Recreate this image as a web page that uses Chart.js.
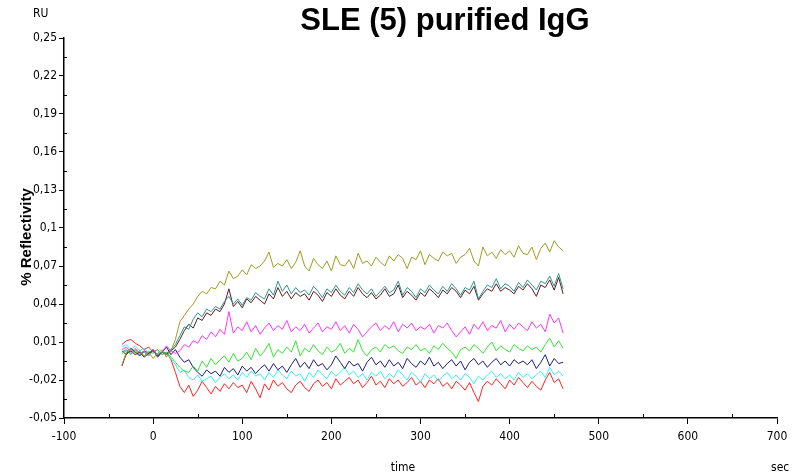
<!DOCTYPE html>
<html>
<head>
<meta charset="utf-8">
<script src="https://cdn.jsdelivr.net/npm/chart.js@4/dist/chart.umd.min.js"></script>
<style>
  html, body { margin: 0; padding: 0; background: #fff; }
  #wrap { width: 799px; height: 476px; position: relative; }
</style>
</head>
<body>
<div id="wrap"><canvas id="chart"></canvas></div>
<script>
// sample times (sec)
const times = [-35,-30,-25,-20,-15,-10,-5,0,5,10,15,20,25,30,35,40,45,50,55,60,65,70,75,80,85,90,95,100,
  105,110,115,120,125,130,135,140,145,150,155,160,165,170,175,180,185,190,195,200,205,210,215,220,225,230,
  235,240,245,250,255,260,265,270,275,280,285,290,295,300,305,310,315,320,325,330,335,340,345,350,355,360,
  365,370,375,380,385,390,395,400,405,410,415,420,425,430,435,440,445,450,455,460];

const olive = [-0.008,0.002,0.004,0.001,0.003,-0.001,0.002,-0.003,0.001,0.004,-0.002,0.003,
  0.012,0.026,0.031,0.036,0.040,0.046,0.050,0.048,0.053,0.052,0.058,0.055,0.066,0.060,0.062,0.067,
  0.063,0.071,0.068,0.070,0.074,0.081,0.069,0.072,0.070,0.075,0.068,0.073,0.082,0.070,0.066,0.076,
  0.071,0.068,0.074,0.066,0.078,0.071,0.070,0.075,0.068,0.080,0.072,0.074,0.070,0.077,0.073,0.070,
  0.078,0.074,0.079,0.076,0.068,0.077,0.075,0.082,0.071,0.079,0.076,0.074,0.081,0.078,0.080,0.072,
  0.077,0.079,0.084,0.074,0.070,0.085,0.078,0.081,0.076,0.083,0.079,0.082,0.077,0.086,0.080,0.079,
  0.085,0.075,0.084,0.088,0.081,0.090,0.085,0.082];

const teal = [0.002,0.004,0.001,0.003,0.000,0.002,-0.001,0.003,0.000,0.002,0.001,0.004,
  0.008,0.015,0.022,0.020,0.028,0.033,0.030,0.036,0.034,0.038,0.036,0.042,0.046,0.040,0.044,0.039,
  0.045,0.043,0.049,0.046,0.044,0.052,0.047,0.058,0.050,0.055,0.048,0.053,0.049,0.051,0.047,0.054,
  0.050,0.045,0.052,0.049,0.055,0.050,0.047,0.053,0.049,0.056,0.051,0.048,0.052,0.046,0.050,0.054,
  0.049,0.051,0.058,0.047,0.053,0.050,0.045,0.052,0.049,0.055,0.051,0.048,0.054,0.050,0.056,0.052,
  0.047,0.053,0.051,0.058,0.044,0.050,0.055,0.053,0.060,0.052,0.056,0.054,0.050,0.057,0.053,0.059,
  0.055,0.051,0.058,0.056,0.062,0.054,0.064,0.052];

const brown = [-0.009,0.001,0.003,0.000,0.002,-0.002,0.001,0.003,-0.001,0.002,0.000,0.003,
  0.006,0.012,0.019,0.024,0.021,0.029,0.027,0.033,0.031,0.036,0.034,0.040,0.052,0.038,0.042,0.037,
  0.044,0.041,0.046,0.043,0.040,0.048,0.044,0.053,0.046,0.050,0.044,0.049,0.046,0.048,0.043,0.050,
  0.047,0.042,0.049,0.046,0.052,0.047,0.044,0.050,0.046,0.053,0.048,0.045,0.049,0.044,0.047,0.052,
  0.046,0.048,0.055,0.045,0.050,0.047,0.043,0.049,0.046,0.052,0.049,0.045,0.051,0.048,0.053,0.050,
  0.045,0.051,0.048,0.054,0.043,0.048,0.052,0.050,0.056,0.050,0.053,0.051,0.048,0.054,0.051,0.056,
  0.052,0.046,0.055,0.053,0.059,0.051,0.061,0.048];

const magenta = [0.004,0.006,0.002,0.005,0.001,0.003,0.000,0.004,-0.001,0.002,0.007,0.003,
  0.001,0.003,0.008,0.006,0.011,0.009,0.015,0.012,0.018,0.014,0.020,0.016,0.034,0.017,0.022,0.019,
  0.026,0.018,0.023,0.016,0.021,0.025,0.019,0.023,0.020,0.027,0.018,0.022,0.019,0.024,0.017,0.021,
  0.025,0.018,0.022,0.020,0.026,0.019,0.023,0.017,0.024,0.020,0.014,0.018,0.022,0.025,0.019,0.023,
  0.020,0.026,0.018,0.024,0.021,0.025,0.019,0.022,0.020,0.024,0.017,0.023,0.021,0.025,0.019,0.014,
  0.018,0.022,0.016,0.024,0.020,0.026,0.019,0.023,0.021,0.027,0.018,0.024,0.020,0.025,0.022,0.019,
  0.026,0.021,0.024,0.018,0.032,0.025,0.029,0.017];

const green = [0.001,0.003,0.000,0.004,0.002,-0.001,0.003,0.001,0.004,0.000,0.002,-0.002,
  -0.006,-0.010,-0.013,-0.014,-0.009,-0.013,-0.005,-0.010,-0.003,-0.008,-0.004,-0.001,-0.006,0.001,-0.005,-0.003,
  0.002,-0.004,0.005,-0.001,0.003,0.009,-0.002,0.004,0.001,0.006,0.002,0.011,-0.001,0.005,0.002,0.008,
  0.003,0.000,0.006,0.002,0.004,0.009,0.001,0.005,0.002,0.012,0.003,-0.001,0.004,0.006,0.002,0.008,
  0.005,0.007,0.003,0.001,0.006,0.004,0.008,0.003,0.005,0.001,0.007,0.004,0.009,0.005,0.002,-0.003,
  0.004,0.006,0.003,0.008,0.005,0.001,0.006,0.010,0.003,0.007,0.004,0.002,0.008,0.005,0.003,0.007,
  0.004,0.006,0.002,0.008,0.013,0.006,0.011,0.005];

const navy = [0.003,0.000,0.005,0.002,-0.001,0.003,0.001,0.004,-0.002,0.002,0.006,0.000,
  0.004,-0.002,-0.006,-0.004,-0.010,-0.014,-0.017,-0.012,-0.015,-0.013,-0.017,-0.010,-0.014,-0.011,-0.016,-0.009,
  -0.013,-0.010,-0.015,-0.011,-0.008,-0.013,-0.007,-0.012,-0.009,-0.014,-0.008,-0.003,-0.010,-0.006,-0.011,-0.004,
  -0.009,-0.007,-0.012,-0.008,-0.001,-0.006,-0.011,-0.005,-0.009,-0.007,-0.013,-0.006,-0.002,-0.008,-0.005,-0.010,
  -0.004,-0.009,-0.006,-0.011,-0.003,-0.007,-0.010,-0.005,-0.008,-0.002,-0.009,-0.006,-0.011,-0.007,-0.004,-0.009,
  -0.005,-0.012,-0.006,-0.003,-0.008,-0.005,-0.010,-0.006,-0.003,-0.008,-0.005,-0.009,-0.004,-0.007,-0.005,-0.008,
  -0.004,-0.011,-0.006,0.000,-0.009,-0.003,-0.007,-0.006];

const cyan = [0.006,0.008,0.004,0.007,0.003,0.005,0.001,0.004,0.000,0.003,0.001,-0.003,
  -0.008,-0.014,-0.012,-0.018,-0.020,-0.016,-0.021,-0.019,-0.017,-0.022,-0.018,-0.015,-0.019,-0.016,-0.020,-0.014,
  -0.018,-0.013,-0.017,-0.015,-0.020,-0.014,-0.018,-0.012,-0.016,-0.019,-0.013,-0.017,-0.015,-0.021,-0.014,-0.018,
  -0.012,-0.016,-0.019,-0.013,-0.017,-0.014,-0.010,-0.016,-0.013,-0.018,-0.015,-0.020,-0.014,-0.017,-0.013,-0.019,
  -0.015,-0.018,-0.012,-0.016,-0.020,-0.014,-0.017,-0.022,-0.015,-0.019,-0.016,-0.021,-0.017,-0.014,-0.019,-0.016,
  -0.020,-0.015,-0.018,-0.023,-0.017,-0.020,-0.016,-0.013,-0.018,-0.015,-0.019,-0.016,-0.020,-0.014,-0.018,-0.015,
  -0.019,-0.016,-0.013,-0.018,-0.010,-0.016,-0.013,-0.017];

const red = [0.008,0.011,0.012,0.009,0.007,0.004,0.006,0.002,0.004,0.000,0.002,-0.004,
  -0.014,-0.025,-0.030,-0.024,-0.033,-0.028,-0.021,-0.026,-0.031,-0.025,-0.029,-0.023,-0.027,-0.022,-0.026,-0.024,
  -0.030,-0.021,-0.027,-0.034,-0.023,-0.028,-0.020,-0.025,-0.022,-0.027,-0.030,-0.024,-0.021,-0.026,-0.029,-0.023,
  -0.020,-0.025,-0.022,-0.027,-0.019,-0.024,-0.021,-0.018,-0.023,-0.020,-0.026,-0.022,-0.017,-0.024,-0.021,-0.026,
  -0.019,-0.023,-0.020,-0.025,-0.022,-0.018,-0.024,-0.021,-0.026,-0.020,-0.023,-0.019,-0.025,-0.022,-0.027,-0.021,
  -0.024,-0.028,-0.022,-0.030,-0.037,-0.025,-0.021,-0.024,-0.019,-0.023,-0.027,-0.020,-0.024,-0.018,-0.022,-0.026,
  -0.021,-0.025,-0.028,-0.020,-0.014,-0.022,-0.019,-0.027];

// axis ticks
const xTicks = [-100, 0, 100, 200, 300, 400, 500, 600, 700];
const xMinorTicks = [-50, 50, 150, 250, 350, 450, 550, 650];
const yTicks = [-0.05, -0.02, 0.01, 0.04, 0.07, 0.1, 0.13, 0.16, 0.19, 0.22, 0.25];
const yTickLabels = ['-0,05', '-0,02', '0,01', '0,04', '0,07', '0,1', '0,13', '0,16', '0,19', '0,22', '0,25'];
const yMinorTicks = [-0.035, -0.005, 0.025, 0.055, 0.085, 0.115, 0.145, 0.175, 0.205, 0.235];

const narrow = "'Liberation Sans Narrow', 'DejaVu Sans Condensed', 'Liberation Sans', sans-serif";

function toPoints(values) {
  return values.map((v, i) => ({ x: times[i], y: v })).filter(p => p.x !== undefined);
}

function series(values, color) {
  return {
    data: toPoints(values),
    borderColor: color,
    borderWidth: 1,
    pointRadius: 0,
    tension: 0,
    fill: false
  };
}

// minor ticks and the loose texts round the plot
const extrasPlugin = {
  id: 'extras',
  afterDraw(chart) {
    let ctx = chart.ctx;
    let xs = chart.scales.x, ys = chart.scales.y;
    let area = chart.chartArea;
    ctx.save();
    ctx.strokeStyle = '#000';
    ctx.lineWidth = 1;
    ctx.beginPath();
    xMinorTicks.forEach(v => {
      let px = Math.round(xs.getPixelForValue(v)) + 0.5;
      ctx.moveTo(px, area.bottom);
      ctx.lineTo(px, area.bottom - 4);
    });
    yMinorTicks.forEach(v => {
      let py = Math.round(ys.getPixelForValue(v)) + 0.5;
      ctx.moveTo(area.left, py);
      ctx.lineTo(area.left + 3, py);
    });
    ctx.stroke();

    ctx.fillStyle = '#000';
    ctx.font = 'bold 31px "Liberation Sans", Arial, sans-serif';
    ctx.textAlign = 'center';
    ctx.textBaseline = 'alphabetic';
    ctx.fillText('SLE (5) purified IgG', 445, 30);

    ctx.font = '12px ' + narrow;
    ctx.textAlign = 'left';
    ctx.fillText('RU', 33, 17);
    ctx.fillText('sec', 771, 471);
    ctx.textAlign = 'center';
    ctx.fillText('time', 403, 471);

    ctx.translate(31, 237);
    ctx.rotate(-Math.PI / 2);
    ctx.font = 'bold 15px "Liberation Sans", Arial, sans-serif';
    ctx.fillText('% Reflectivity', 0, 0);
    ctx.restore();
  }
};

new Chart(document.getElementById('chart'), {
  type: 'line',
  data: {
    datasets: [
      series(olive, '#9c9c24'),
      series(teal, '#2f9494'),
      series(brown, '#5e1c1c'),
      series(magenta, '#ff33ff'),
      series(green, '#33e633'),
      series(navy, '#1c1c84'),
      series(cyan, '#33f0f5'),
      series(red, '#ff2222')
    ]
  },
  options: {
    responsive: true,
    maintainAspectRatio: false,
    animation: false,
    events: [],
    layout: { padding: { left: 0, right: 22, top: 38, bottom: 0 } },
    plugins: { legend: { display: false }, tooltip: { enabled: false }, title: { display: false } },
    scales: {
      x: {
        type: 'linear',
        min: -100,
        max: 700,
        afterBuildTicks: scale => { scale.ticks = xTicks.map(v => ({ value: v })); },
        afterFit: scale => { scale.height = 58; },
        border: { display: true, color: '#000', width: 1.5 },
        grid: { display: true, drawOnChartArea: false, drawTicks: true, tickLength: 6, color: '#000', tickColor: '#000' },
        ticks: { color: '#000', padding: 6, maxRotation: 0, autoSkip: false, font: { family: narrow, size: 12 } }
      },
      y: {
        type: 'linear',
        min: -0.05,
        max: 0.25,
        afterBuildTicks: scale => { scale.ticks = yTicks.map(v => ({ value: v })); },
        afterFit: scale => { scale.width = 64; },
        border: { display: true, color: '#000', width: 1.5 },
        grid: { display: true, drawOnChartArea: false, drawTicks: true, tickLength: 5, color: '#000', tickColor: '#000' },
        ticks: {
          color: '#000', padding: 2, autoSkip: false, font: { family: narrow, size: 12 },
          callback: (value, index) => yTickLabels[index]
        }
      }
    }
  },
  plugins: [extrasPlugin]
});
</script>
</body>
</html>
